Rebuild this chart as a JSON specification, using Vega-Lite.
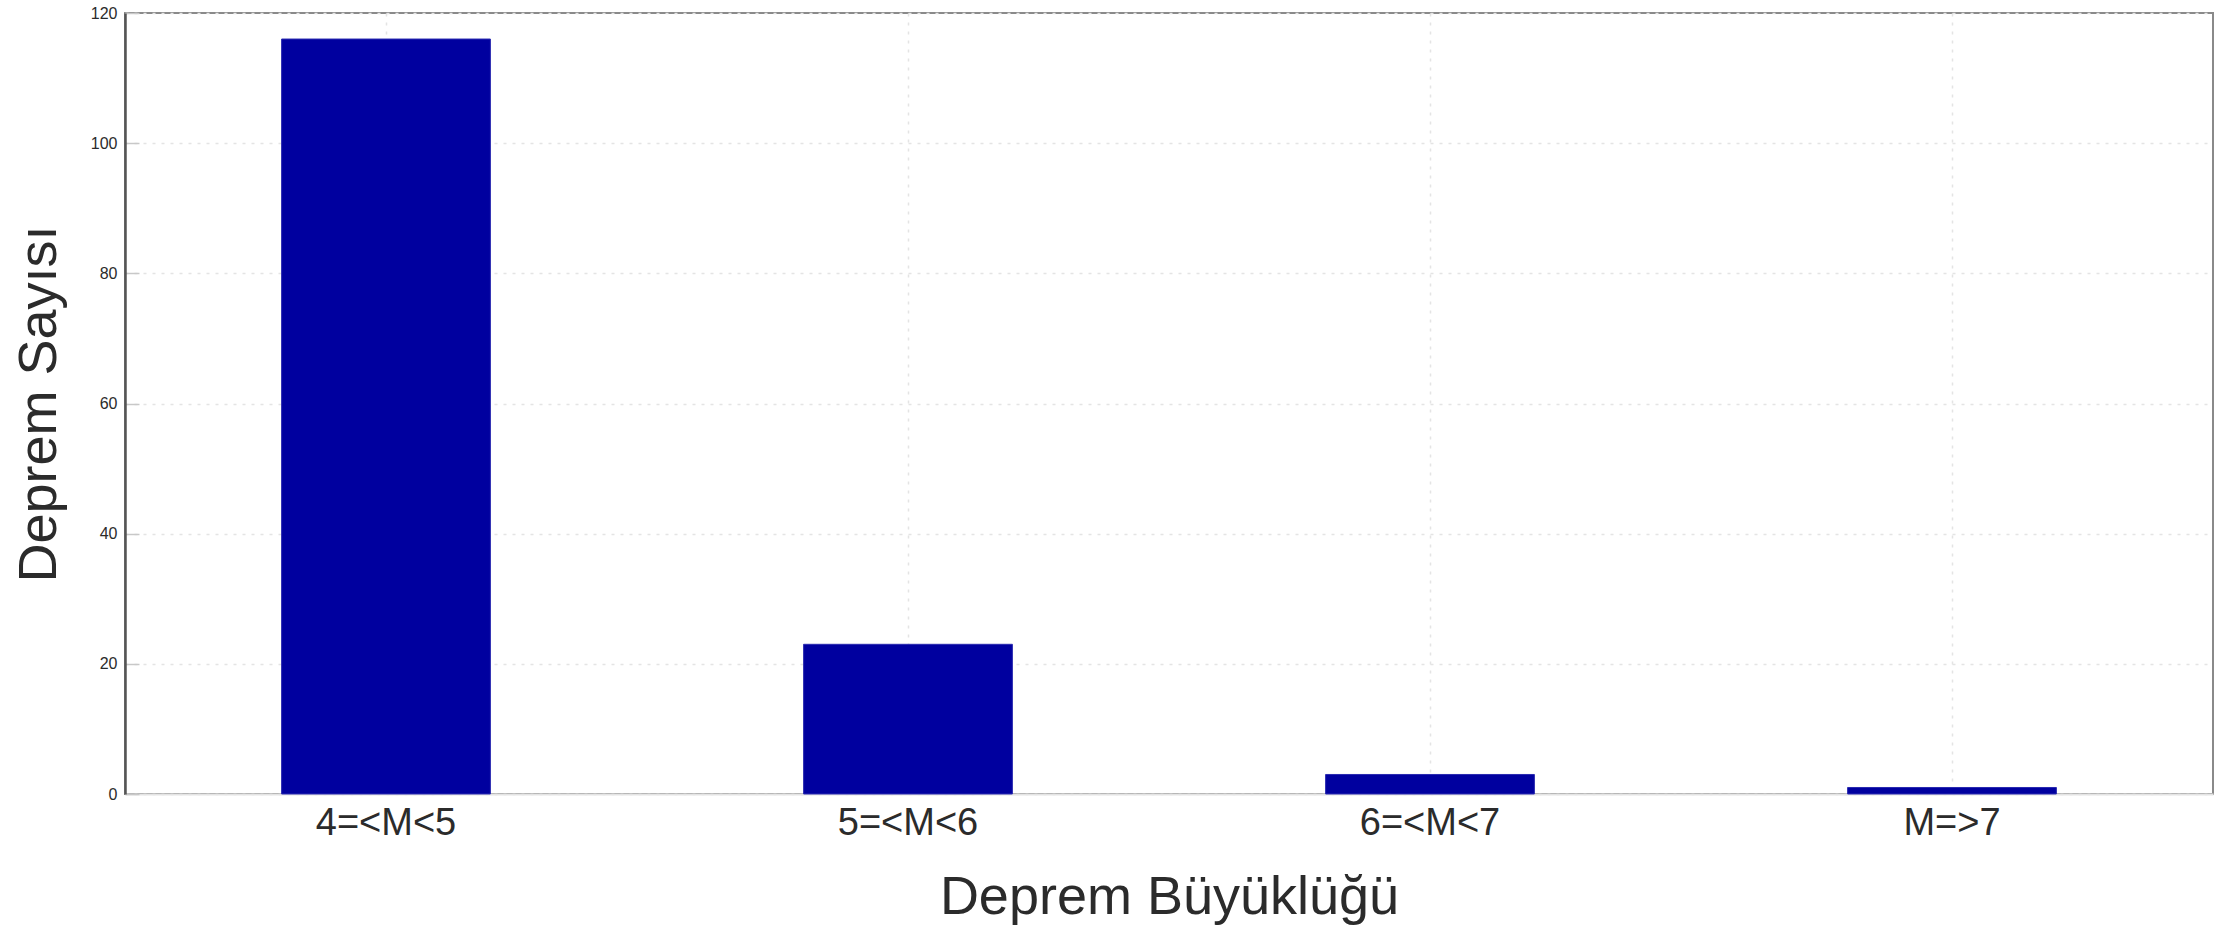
{
  "$schema": "https://vega.github.io/schema/vega-lite/v6.json",
  "width": 2088,
  "height": 781,
  "autosize": {"type": "none"},
  "padding": {"left": 125, "top": 13, "right": 7, "bottom": 141},
  "background": "white",
  "data": {
    "values": [
      {"aralik": "4=<M<5", "sayi": 116},
      {"aralik": "5=<M<6", "sayi": 23},
      {"aralik": "6=<M<7", "sayi": 3},
      {"aralik": "M=>7", "sayi": 1}
    ]
  },
  "config": {
    "font": "Liberation Sans",
    "view": {"stroke": "#8a8a8a", "strokeWidth": 2}
  },
  "mark": {"type": "bar", "color": "#00009f", "stroke": "#2a2ab0", "strokeWidth": 1},
  "encoding": {
    "x": {
      "field": "aralik",
      "type": "nominal",
      "sort": null,
      "scale": {"paddingInner": 0.6, "paddingOuter": 0.3},
      "axis": {
        "title": "Deprem Büyüklüğü",
        "titleFont": "Liberation Sans",
        "titleFontSize": 54,
        "titleFontWeight": "normal",
        "titleColor": "#2b2b2b",
        "titlePadding": 28,
        "labelAngle": 0,
        "labelFontSize": 38,
        "labelColor": "#2b2b2b",
        "labelPadding": 10,
        "ticks": false,
        "domainColor": "#e4e4e4",
        "domainWidth": 2,
        "grid": true,
        "bandPosition": 0.5,
        "gridColor": "#e4e4e4",
        "gridDash": [3, 6],
        "gridWidth": 1.5
      }
    },
    "y": {
      "field": "sayi",
      "type": "quantitative",
      "scale": {"domain": [0, 120], "nice": false},
      "axis": {
        "title": "Deprem Sayısı",
        "titleFont": "Liberation Sans",
        "titleFontSize": 54,
        "titleFontWeight": "normal",
        "titleColor": "#2b2b2b",
        "titlePadding": 24,
        "values": [0, 20, 40, 60, 80, 100, 120],
        "labelFontSize": 16,
        "labelColor": "#2b2b2b",
        "labelPadding": 22,
        "tickSize": -14,
        "tickColor": "#c8c8c8",
        "tickWidth": 1.5,
        "domainColor": "#555555",
        "domainWidth": 2.5,
        "grid": true,
        "gridColor": "#e4e4e4",
        "gridDash": [3, 6],
        "gridWidth": 1.5
      }
    }
  }
}
